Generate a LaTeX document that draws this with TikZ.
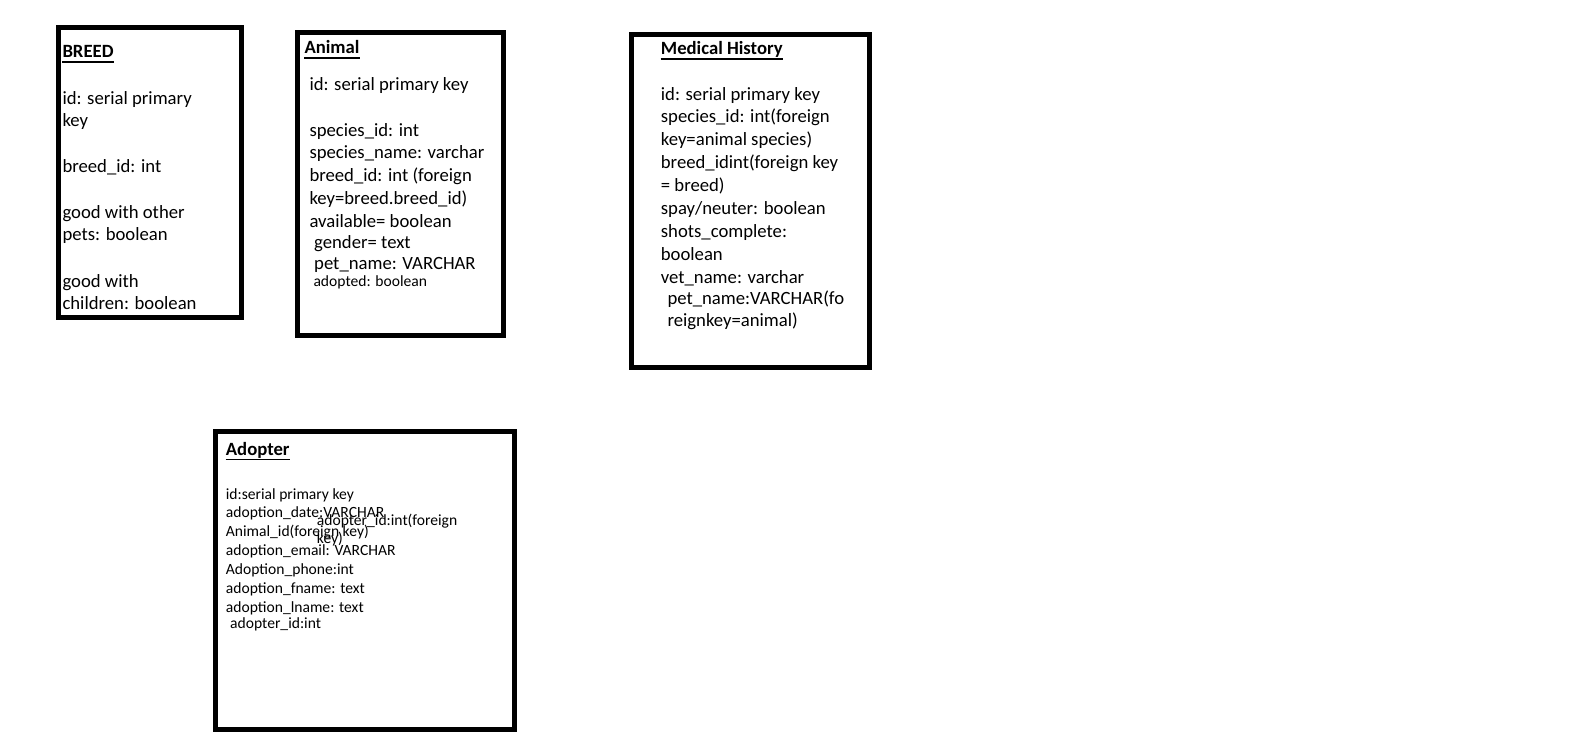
\documentclass[tikz,border=0pt]{standalone}
\usepackage{fontspec}
\setmainfont{Carlito}
\begin{document}
\begin{tikzpicture}[x=1pt,y=-1pt,
  box/.style={draw=black,line width=5pt,inner sep=0pt,outer sep=0pt,anchor=north west},
  big/.style={anchor=base west,inner sep=0pt,font=\fontsize{18.7}{22.7}\selectfont},
  small/.style={anchor=base west,inner sep=0pt,font=\fontsize{15.6}{19}\selectfont},
  title/.style={big,font=\fontsize{18.7}{22.7}\selectfont\bfseries},
  uline/.style={line width=1.7pt}]
\fill[white] (0,0) rectangle (1594,734);
\useasboundingbox (0,0) rectangle (1594,734);

% boxes
\node[box,minimum width=183.3pt,minimum height=290pt] (breedbox) at (58.5,27.5) {};
\node[box,minimum width=206pt,minimum height=303.3pt] (animalbox) at (297.5,32.5) {};
\node[box,minimum width=237.4pt,minimum height=332.7pt] (medbox) at (631.8,34.8) {};
\node[box,minimum width=298.4pt,minimum height=297.7pt] (adoptbox) at (215.8,431.5) {};

% BREED
\node[title] (bt) at (62.3,57.3) {BREED};
\draw[uline] ([yshift=-4.5pt]bt.base west) -- ([yshift=-4.5pt]bt.base east);
\node[big] (b1) at (62.3,104) {id: serial primary};
\node[big] (b2) at (62.3,126.7) {key};
\node[big] (b3) at (62.3,172) {breed\_id: int};
\node[big] (b4) at (62.3,218) {good with other};
\node[big] (b5) at (62.3,240.5) {pets: boolean};
\node[big] (b6) at (62.3,287) {good with};
\node[big] (b7) at (62.3,309.5) {children: boolean};

% Animal
\node[title] (at) at (304.3,53.3) {Animal\ };
\draw[uline] ([yshift=-4.5pt]at.base west) -- ([yshift=-4.5pt]at.base east);
\node[big] (a1) at (309.3,90) {id: serial primary key};
\node[big] (a2) at (309.3,136.7) {species\_id: int};
\node[big] (a3) at (309.3,158.7) {species\_name: varchar};
\node[big] (a4) at (309.3,181.7) {breed\_id: int (foreign};
\node[big] (a5) at (309.3,204.5) {key=breed.breed\_id)};
\node[big] (a6) at (309.3,227.5) {available= boolean};
\node[big] (a7) at (314,248) {gender= text};
\node[big] (a8) at (314,269) {pet\_name: VARCHAR};
\node[small] (a9) at (313.3,286) {adopted: boolean};

% Medical History
\node[title] (mt) at (660.7,54.3) {Medical History};
\draw[uline] ([yshift=-4.5pt]mt.base west) -- ([yshift=-4.5pt]mt.base east);
\node[big] (m1) at (660.7,100) {id: serial primary key};
\node[big] (m2) at (660.7,122.3) {species\_id: int(foreign};
\node[big] (m3) at (660.7,145.7) {key=animal species)};
\node[big] (m4) at (660.7,168.3) {breed\_idint(foreign key};
\node[big] (m5) at (660.7,191.7) {= breed)};
\node[big] (m6) at (660.7,214.3) {spay/neuter: boolean};
\node[big] (m7) at (660.7,237.7) {shots\_complete:};
\node[big] (m8) at (660.7,260) {boolean};
\node[big] (m9) at (660.7,283.3) {vet\_name: varchar};
\node[big] (m10) at (667.3,304.3) {pet\_name:VARCHAR(fo};
\node[big] (m11) at (667.3,326.7) {reignkey=animal)};

% Adopter
\node[title] (dt) at (225.7,455) {Adopter};
\draw[uline] ([yshift=-4.5pt]dt.base west) -- ([yshift=-4.5pt]dt.base east);
\node[small] (d1) at (225.7,499) {id:serial primary key};
\node[small] (d2) at (225.7,517.7) {adoption\_date:VARCHAR};
\node[small] (d3) at (225.7,536.7) {Animal\_id(foreign key)};
\node[small] (d4) at (225.7,555.7) {adoption\_email: VARCHAR};
\node[small] (d5) at (225.7,574.3) {Adoption\_phone:int};
\node[small] (d6) at (225.7,593.3) {adoption\_fname: text};
\node[small] (d7) at (225.7,612.3) {adoption\_lname: text};
\node[small] (d8) at (230,628.3) {adopter\_id:int};
\node[small] (d9) at (316.7,525) {adopter\_id:int(foreign};
\node[small] (d10) at (316.7,543.3) {key)};
\end{tikzpicture}
\end{document}
